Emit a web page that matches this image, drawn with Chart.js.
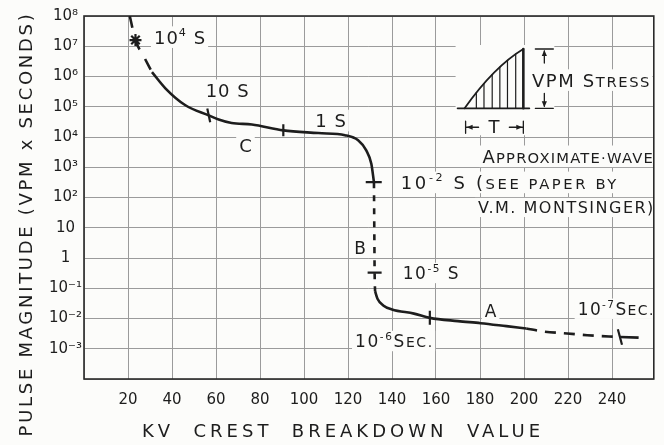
<!DOCTYPE html>
<html>
<head>
<meta charset="utf-8">
<script src="https://cdn.jsdelivr.net/npm/chart.js@4.4.1/dist/chart.umd.min.js"></script>
<style>
  html, body { margin: 0; background: #fcfcfa; }
  #wrap { width: 664px; height: 445px; }
</style>
</head>
<body>
<div id="wrap"><canvas id="pulseChart"></canvas></div>
<script>
/* ---------- Data ---------- */

const xTicks = [0, 20, 40, 60, 80, 100, 120, 140, 160, 180, 200, 220, 240];
// decades 1e-4 .. 1e8
const yTickLabels = ['', '10⁻³', '10⁻²', '10⁻¹', '1', '10', '10²', '10³', '10⁴', '10⁵', '10⁶', '10⁷', '10⁸'];

// long-time end, dashed (10^4 s region)
const upperKv = [20.8, 23.4, 27.3, 30.9];
const upperPm = [1e8, 1.6e7, 4.4e6, 1.4e6];

// branch C
const curveCKv = [30.9, 37.1, 46.1, 56.7, 61.2, 67.1, 76.3, 90.6, 106.5, 118.6, 124.6, 128.3, 130.6, 131.8];
const curveCPm = [1.4e6, 4.0e5, 1.12e5, 5.2e4, 3.8e4, 2.9e4, 2.6e4, 1.66e4, 1.35e4, 1.15e4, 7.8e3, 3.6e3, 1.3e3, 320];

// branch B, dashed drop
const curveBKv = [131.8, 132.0, 132.1, 132.3];
const curveBPm = [320, 3, 0.33, 0.08];

// branch A
const curveAKv = [132.3, 133.4, 136, 140, 150, 157.2, 170, 180.3, 192, 201];
const curveAPm = [0.08, 0.045, 0.027, 0.020, 0.0145, 0.0105, 0.0082, 0.0070, 0.0056, 0.0047];

// dashed extension of A, then the short solid end
const tailKv = [201, 209.1, 219.6, 228.7, 243.6];
const tailPm = [0.0047, 0.0037, 0.0032, 0.0028, 0.00245];
const tailEndKv = [243.6, 252.1];
const tailEndPm = [0.00245, 0.00234];

// time marks along the curve: 10^4 s, 10 s, 1 s, 10^-2 s, 10^-5 s, 10^-6 s, 10^-7 s
const markKv = [23.4, 56.7, 90.6, 131.7, 132.1, 157.2, 243.6];
const markPm = [1.6e7, 5.2e4, 1.66e4, 320, 0.33, 0.0105, 0.00245];

/* ---------- Styles ---------- */

const INK = '#1d1d1d';
const PAPER = '#fcfcfa';
const FONT = '"DejaVu Sans", sans-serif';

const markStyles = ['star', 'line', 'line', 'line', 'line', 'line', 'line'];
const markRotation = [0, 78, 90, 0, 0, 90, 75];
const markRadius = [6, 7, 6, 8, 7, 7, 8];

// text notes, placed in data units; parts: [text, kind] with kind 'sup' or 'sc'
const notes = [
  { parts: [['10'], ['4', 'sup'], [' S']], kv: 31.8, pm: 2.0e7, align: 'left', size: 18 },
  { parts: [['10 S']], kv: 55.3, pm: 3.5e5, align: 'left', size: 18 },
  { parts: [['1 S']], kv: 105.1, pm: 3.5e4, align: 'left', size: 18 },
  { parts: [['C']], kv: 73.4, pm: 5.2e3, align: 'center', size: 18 },
  { parts: [['A'], ['PPROXIMATE·WAVE', 'sc']], kv: 258.6, pm: 2.3e3, align: 'right', size: 18, spacing: 1.2 },
  { parts: [['10'], ['-2', 'sup'], [' S ('], ['SEE PAPER BY', 'sc']], kv: 144.0, pm: 316, align: 'left', size: 18, spacing: 2.6 },
  { parts: [['V.M. MONTSINGER)']], kv: 258.8, pm: 46.8, align: 'right', size: 16, spacing: 1.5 },
  { parts: [['B']], kv: 125.5, pm: 2.2, align: 'center', size: 17 },
  { parts: [['10'], ['-5', 'sup'], [' S']], kv: 144.9, pm: 0.32, align: 'left', size: 17, spacing: 1.5 },
  { parts: [['A']], kv: 184.8, pm: 0.018, align: 'center', size: 17 },
  { parts: [['10'], ['-6', 'sup'], ['S'], ['EC.', 'sc']], kv: 123.2, pm: 0.0018, align: 'left', size: 17, spacing: 1.6 },
  { parts: [['10'], ['-7', 'sup'], ['S'], ['EC.', 'sc']], kv: 258.8, pm: 0.021, align: 'right', size: 17, spacing: 1.4 },
  { parts: [['VPM S'], ['TRESS', 'sc']], kv: 203.6, pm: 7.6e5, align: 'left', size: 18, spacing: 1.6 }
];

// wave sketch corners (foot and crest) and the T dimension row, in data units
const sketchFoot = [173.0, 8.9e4];
const sketchCrest = [199.7, 8.1e6];
const sketchTPm = 2.1e4;

/* ---------- Helpers ---------- */

const pairs = (xs, ys) => xs.map((v, i) => ({ x: v, y: ys[i] }));

function lineSet(xs, ys, dash) {
  return {
    data: pairs(xs, ys),
    showLine: true,
    borderColor: INK,
    borderWidth: 2.6,
    borderDash: dash || [],
    pointRadius: 0,
    cubicInterpolationMode: 'monotone'
  };
}

function partFont(kind, size) {
  const s = kind === 'sup' ? size * 0.62 : kind === 'sc' ? size * 0.82 : size;
  return `${s}px ${FONT}`;
}

function richWidth(ctx, parts, size) {
  let w = 0;
  parts.forEach(([t, k]) => { ctx.font = partFont(k, size); w += ctx.measureText(t).width; });
  return w;
}

function noteBox(chart, n) {
  const { ctx, scales: { x, y } } = chart;
  ctx.letterSpacing = `${n.spacing || 1}px`;
  const w = richWidth(ctx, n.parts, n.size) - (n.spacing || 1);
  const px = x.getPixelForValue(n.kv);
  const py = y.getPixelForValue(n.pm);
  const left = n.align === 'right' ? px - w : n.align === 'center' ? px - w / 2 : px;
  return { left, w, py };
}

function drawNote(chart, n) {
  const { ctx } = chart;
  const { left, py } = noteBox(chart, n);
  const base = py + n.size * 0.36;
  let cx = left;
  ctx.fillStyle = INK;
  ctx.textBaseline = 'alphabetic';
  ctx.textAlign = 'left';
  n.parts.forEach(([t, k]) => {
    ctx.font = partFont(k, n.size);
    ctx.fillText(t, cx, k === 'sup' ? base - n.size * 0.42 : base);
    cx += ctx.measureText(t).width;
  });
}

function arrowHead(ctx, tx, ty, dx, dy) {
  // filled head with tip at (tx, ty), pointing along (dx, dy)
  const len = 6, half = 2.6;
  ctx.beginPath();
  ctx.moveTo(tx, ty);
  ctx.lineTo(tx - dx * len - dy * half, ty - dy * len - dx * half);
  ctx.lineTo(tx - dx * len + dy * half, ty - dy * len + dx * half);
  ctx.closePath();
  ctx.fill();
}

function sketchGeometry(chart) {
  const { x, y } = chart.scales;
  return {
    x0: x.getPixelForValue(sketchFoot[0]),
    yb: y.getPixelForValue(sketchFoot[1]),
    x1: x.getPixelForValue(sketchCrest[0]),
    yt: y.getPixelForValue(sketchCrest[1]),
    ty: y.getPixelForValue(sketchTPm)
  };
}

function drawSketch(chart) {
  const { ctx } = chart;
  const { x0, yb, x1, yt, ty } = sketchGeometry(chart);
  const w = x1 - x0, h = yb - yt;
  const rise = f => 2 * f * (1 - f) * 0.7 + f * f;

  ctx.save();
  ctx.strokeStyle = INK;
  ctx.fillStyle = INK;
  ctx.lineCap = 'round';

  // base line
  ctx.lineWidth = 1.8;
  ctx.beginPath();
  ctx.moveTo(x0 - 7, yb);
  ctx.lineTo(x1 + 6, yb);
  ctx.stroke();

  // wave front
  ctx.lineWidth = 1.8;
  ctx.beginPath();
  ctx.moveTo(x0, yb);
  ctx.quadraticCurveTo(x0 + 0.5 * w, yb - 0.7 * h, x1, yt);
  ctx.stroke();

  // hatching
  ctx.lineWidth = 1.2;
  [0.2, 0.33, 0.47, 0.6, 0.73, 0.87].forEach(f => {
    ctx.beginPath();
    ctx.moveTo(x0 + f * w, yb);
    ctx.lineTo(x0 + f * w, yb - rise(f) * h);
    ctx.stroke();
  });

  // tail of the wave
  ctx.lineWidth = 2.6;
  ctx.beginPath();
  ctx.moveTo(x1, yt);
  ctx.lineTo(x1, yb);
  ctx.stroke();

  // VPM dimension
  const ax = x1 + 21;
  ctx.lineWidth = 1.3;
  ctx.beginPath();
  ctx.moveTo(ax - 9, yt); ctx.lineTo(ax + 9, yt);
  ctx.moveTo(ax - 9, yb); ctx.lineTo(ax + 9, yb);
  ctx.moveTo(ax, yt + 2); ctx.lineTo(ax, yt + 14);
  ctx.moveTo(ax, yb - 15); ctx.lineTo(ax, yb - 2);
  ctx.stroke();
  arrowHead(ctx, ax, yt + 1, 0, -1);
  arrowHead(ctx, ax, yb - 1, 0, 1);

  // T dimension
  ctx.beginPath();
  ctx.moveTo(x0 + 1, ty - 6); ctx.lineTo(x0 + 1, ty + 6);
  ctx.moveTo(x1, ty - 6); ctx.lineTo(x1, ty + 6);
  ctx.moveTo(x0 + 2, ty); ctx.lineTo(x0 + 14, ty);
  ctx.moveTo(x1 - 14, ty); ctx.lineTo(x1 - 1, ty);
  ctx.stroke();
  arrowHead(ctx, x0 + 2, ty, -1, 0);
  arrowHead(ctx, x1 - 1, ty, 1, 0);
  ctx.font = `18px ${FONT}`;
  ctx.textAlign = 'center';
  ctx.textBaseline = 'middle';
  ctx.letterSpacing = '0px';
  ctx.fillText('T', (x0 + x1) / 2, ty + 1);
  ctx.restore();
}

/* ---------- Plugin: notes, frame, titles ---------- */

const notesPlugin = {
  id: 'notes',
  beforeDatasetsDraw(chart) {
    const { ctx, chartArea: a } = chart;
    ctx.save();
    ctx.fillStyle = PAPER;
    notes.forEach(n => {
      const { left, w, py } = noteBox(chart, n);
      ctx.fillRect(left - 3, py - n.size * 0.6, w + 6, n.size * 1.2);
    });
    const s = sketchGeometry(chart);
    ctx.fillRect(s.x0 - 9, s.yt - 4, s.x1 - s.x0 + 40, s.ty - s.yt + 12);
    // plot frame
    ctx.letterSpacing = '0px';
    ctx.strokeStyle = '#2a2a2a';
    ctx.lineWidth = 1.6;
    ctx.strokeRect(a.left, a.top, a.right - a.left, a.bottom - a.top);
    ctx.restore();
  },
  afterDatasetsDraw(chart) {
    const { ctx } = chart;
    ctx.save();
    notes.forEach(n => drawNote(chart, n));
    ctx.restore();
    drawSketch(chart);
  },
  afterDraw(chart) {
    const { ctx } = chart;
    ctx.save();
    ctx.fillStyle = INK;
    ctx.font = `18px ${FONT}`;
    ctx.textAlign = 'center';
    ctx.textBaseline = 'middle';
    ctx.letterSpacing = '4px';
    ctx.fillText('KV  CREST  BREAKDOWN  VALUE', 343, 432);
    ctx.letterSpacing = '2.7px';
    ctx.translate(27, 224);
    ctx.rotate(-Math.PI / 2);
    ctx.fillText('PULSE MAGNITUDE (VPM x SECONDS)', 0, 0);
    ctx.restore();
  }
};

/* ---------- Chart ---------- */

const gridStyle = { color: '#9b9b9b', lineWidth: 1, drawTicks: false };
const tickFont = { family: FONT, size: 15 };

new Chart(document.getElementById('pulseChart'), {
  type: 'scatter',
  data: {
    datasets: [
      lineSet(upperKv, upperPm, [12, 11]),
      lineSet(curveCKv, curveCPm),
      lineSet(curveBKv, curveBPm, [6, 7]),
      lineSet(curveAKv, curveAPm),
      lineSet(tailKv, tailPm, [11, 8]),
      lineSet(tailEndKv, tailEndPm),
      {
        data: pairs(markKv, markPm),
        showLine: false,
        pointStyle: markStyles,
        rotation: markRotation,
        pointRadius: markRadius,
        borderColor: INK,
        backgroundColor: INK,
        borderWidth: 2.2
      }
    ]
  },
  options: {
    responsive: true,
    maintainAspectRatio: false,
    animation: false,
    layout: { padding: { top: 16, right: 7, left: 0, bottom: 0 } },
    plugins: { legend: { display: false }, tooltip: { enabled: false } },
    scales: {
      x: {
        type: 'linear',
        min: 0,
        max: 259,
        afterBuildTicks: s => { s.ticks = xTicks.map(v => ({ value: v })); },
        afterFit: s => { s.height = 66; },
        grid: gridStyle,
        border: { display: false },
        ticks: {
          autoSkip: false, maxRotation: 0, padding: 12, color: INK, font: tickFont,
          callback: v => (v === 0 ? '' : v)
        }
      },
      y: {
        type: 'logarithmic',
        min: 1e-4,
        max: 1e8,
        afterBuildTicks: s => { s.ticks = yTickLabels.map((_, i) => ({ value: Math.pow(10, i - 4) })); },
        afterFit: s => { s.width = 84; },
        grid: gridStyle,
        border: { display: false },
        ticks: {
          autoSkip: false, padding: 2, crossAlign: 'center', color: INK, font: tickFont,
          callback: (v, i) => yTickLabels[i]
        }
      }
    }
  },
  plugins: [notesPlugin]
});
</script>
</body>
</html>
